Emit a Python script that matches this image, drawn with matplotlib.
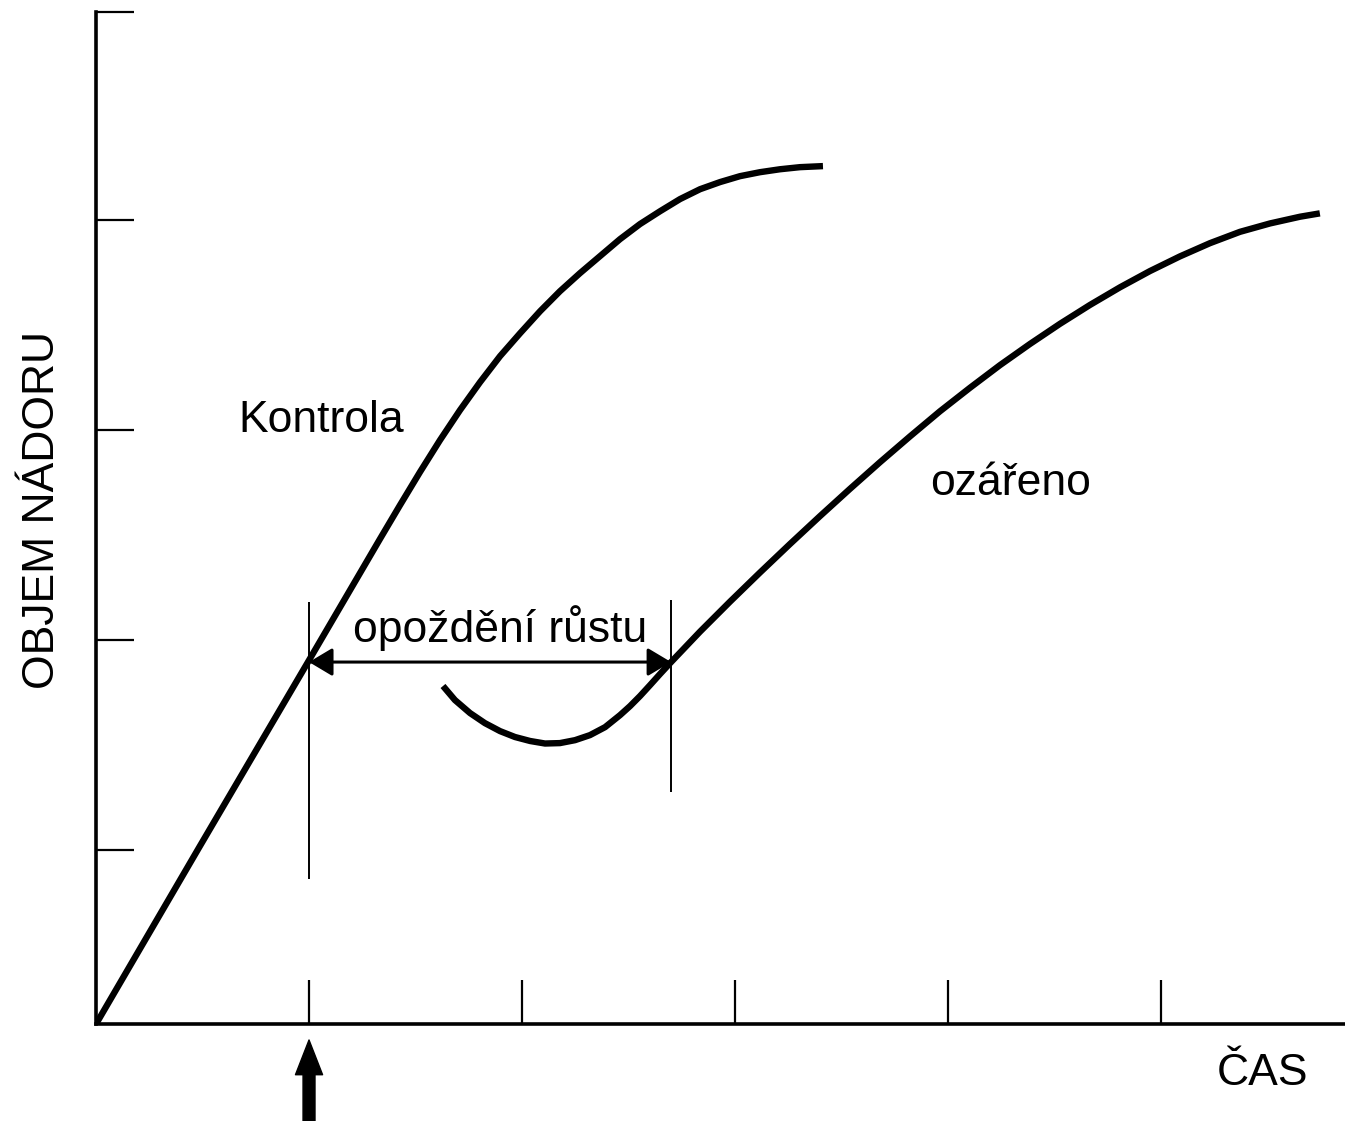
import matplotlib
matplotlib.use('Agg')
import matplotlib.pyplot as plt

plt.rcParams['font.family'] = ['Liberation Sans', 'DejaVu Sans']

# time axis: tick spacing = 1 unit, volume axis: tick spacing = 1 unit
x_ticks = [1, 2, 3, 4, 5]
y_ticks = [0.83, 1.83, 2.83, 3.83, 4.82]

kontrola_x = [0.000, 0.488, 0.995, 1.333, 1.427, 1.521, 1.615, 1.709, 1.803,
              1.897, 1.991, 2.085, 2.178, 2.272, 2.366, 2.460, 2.554, 2.648,
              2.742, 2.836, 2.930, 3.023, 3.117, 3.211, 3.305, 3.413]
kontrola_y = [0.000, 0.848, 1.724, 2.310, 2.471, 2.629, 2.781, 2.924, 3.057,
              3.181, 3.290, 3.395, 3.490, 3.576, 3.657, 3.738, 3.810, 3.871,
              3.929, 3.976, 4.010, 4.038, 4.057, 4.071, 4.081, 4.086]

ozareno_x = [1.629, 1.685, 1.756, 1.826, 1.897, 1.967, 2.038, 2.108, 2.178,
             2.249, 2.319, 2.390, 2.460, 2.507, 2.554, 2.601, 2.648, 2.700,
             2.836, 2.977, 3.117, 3.258, 3.399, 3.540, 3.681, 3.822, 3.962,
             4.103, 4.244, 4.385, 4.526, 4.667, 4.808, 4.948, 5.089, 5.230,
             5.371, 5.512, 5.653, 5.746]
ozareno_y = [1.610, 1.543, 1.481, 1.433, 1.395, 1.367, 1.348, 1.336, 1.338,
             1.352, 1.376, 1.414, 1.471, 1.514, 1.562, 1.614, 1.667, 1.724,
             1.869, 2.012, 2.150, 2.286, 2.419, 2.549, 2.676, 2.799, 2.918,
             3.030, 3.138, 3.239, 3.335, 3.425, 3.509, 3.586, 3.656, 3.719,
             3.773, 3.813, 3.845, 3.861]

ozareni_t = 1.0          # time of irradiation (arrow under the axis)
opozdeni_konec = 2.70    # where the irradiated curve reaches the same volume
opozdeni_v = 1.724       # volume level of the growth delay arrow

fig = plt.figure(figsize=(13.45, 11.21), dpi=100)
ax = fig.add_axes([0.0714, 0.0865, 0.9286, 0.9028])
ax.set_xlim(0, 5.864)
ax.set_ylim(0, 4.82)

for s in ['top', 'right']:
    ax.spines[s].set_visible(False)
for s in ['left', 'bottom']:
    ax.spines[s].set_linewidth(2.6)

ax.set_xticks(x_ticks)
ax.set_yticks(y_ticks)
ax.set_xticklabels([])
ax.set_yticklabels([])
ax.tick_params(axis='x', direction='in', length=32, width=1.6)
ax.tick_params(axis='y', direction='in', length=27, width=1.6)

ax.plot(kontrola_x, kontrola_y, color='black', lw=4.6,
        solid_capstyle='butt', solid_joinstyle='round')
ax.plot(ozareno_x, ozareno_y, color='black', lw=4.6,
        solid_capstyle='butt', solid_joinstyle='round')

# thin vertical guides
ax.vlines(ozareni_t, 0.69, 2.01, color='black', lw=1.4)
ax.vlines(opozdeni_konec, 1.105, 2.02, color='black', lw=1.4)

# growth delay double arrow
ax.annotate('', xy=(opozdeni_konec, opozdeni_v), xytext=(ozareni_t, opozdeni_v),
            arrowprops=dict(arrowstyle='<|-|>,head_length=0.72,head_width=0.43',
                            mutation_scale=20, color='black', lw=2.2,
                            shrinkA=0, shrinkB=0))

# irradiation arrow under the time axis
ax.annotate('', xy=(ozareni_t, -0.076), xytext=(ozareni_t, -0.48),
            xycoords='data', annotation_clip=False,
            arrowprops=dict(width=8.6, headwidth=19.5, headlength=25,
                            color='black', shrink=0))

fs = 32
ax.text(0.667, 2.82, 'Kontrola', fontsize=fs, ha='left', va='baseline')
ax.text(3.915, 2.52, 'ozářeno', fontsize=fs, ha='left', va='baseline')
ax.text(1.207, 1.819, 'opoždění růstu', fontsize=fs, ha='left', va='baseline')

ax.set_xlabel('ČAS', fontsize=fs, va='center', ha='center')
ax.xaxis.set_label_coords(0.934, -0.049)
ax.set_ylabel('OBJEM NÁDORU', fontsize=fs, va='center', ha='center')
ax.yaxis.set_label_coords(-0.0432, 0.508)

fig.savefig('out.png', dpi=100, facecolor='white')
